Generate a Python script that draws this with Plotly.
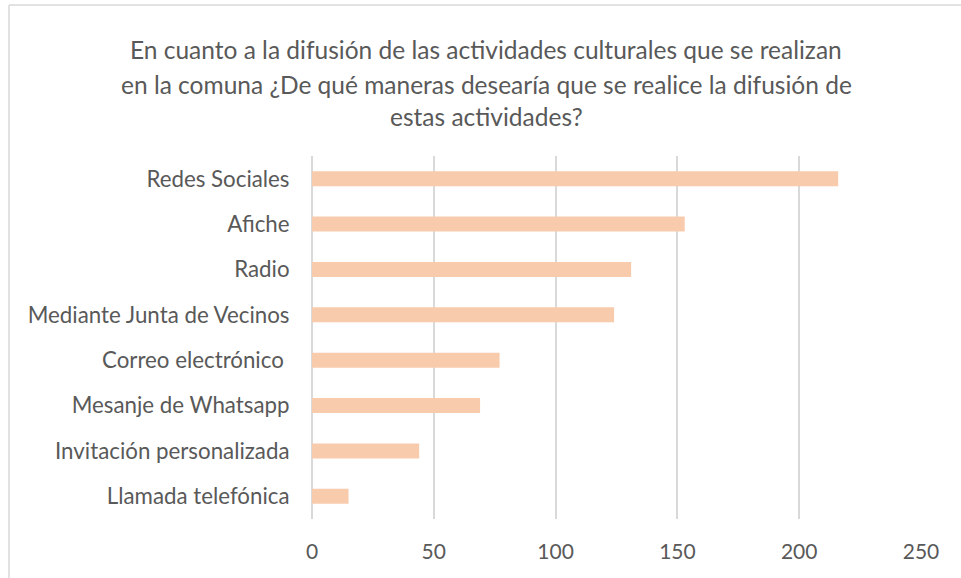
import plotly.graph_objects as go

categories = [
    "Redes Sociales",
    "Afiche",
    "Radio",
    "Mediante Junta de Vecinos",
    "Correo electrónico ",
    "Mesanje de Whatsapp",
    "Invitación personalizada",
    "Llamada telefónica",
]
values = [216, 153, 131, 124, 77, 69, 44, 15]

title_lines = [
    "En cuanto a la difusión de las actividades culturales que se realizan",
    "en la comuna ¿De qué maneras desearía que se realice la difusión de",
    "estas actividades?",
]

FONT = "Lato"
TXT = "#595959"
GRID = "#d9d9d9"
BAR = "#F8CBAD"

fig = go.Figure(
    go.Bar(
        x=values,
        y=categories,
        orientation="h",
        marker=dict(color=BAR, line=dict(width=0)),
        hoverinfo="x+y",
    )
)

W, H = 961, 578
L, R, T, B = 312, 40, 156, 59
plot_w = W - L - R
plot_h = H - T - B

title_y_px = [50, 84, 117]
annotations = []
for line, ypx in zip(title_lines, title_y_px):
    annotations.append(
        dict(
            text=line,
            xref="paper",
            yref="paper",
            x=(486 - L) / plot_w,
            y=(H - B - ypx) / plot_h,
            xanchor="center",
            yanchor="middle",
            showarrow=False,
            font=dict(family=FONT, size=24.5, color=TXT),
        )
    )

shapes = [
    dict(type="line", xref="paper", yref="paper",
         x0=(9 - L) / plot_w, x1=(W + 5 - L) / plot_w,
         y0=(H - B - 5) / plot_h, y1=(H - B - 5) / plot_h,
         line=dict(color=GRID, width=1.5)),
    dict(type="line", xref="paper", yref="paper",
         x0=(9 - L) / plot_w, x1=(9 - L) / plot_w,
         y0=(H - B - 5) / plot_h, y1=-1,
         line=dict(color=GRID, width=1.5)),
]

fig.update_layout(
    width=W,
    height=H,
    margin=dict(l=L, r=R, t=T, b=B, pad=0),
    paper_bgcolor="white",
    plot_bgcolor="white",
    showlegend=False,
    bargap=0.67,
    annotations=annotations,
    shapes=shapes,
    font=dict(family=FONT, size=21, color=TXT),
    xaxis=dict(
        range=[0, 250],
        tickvals=[0, 50, 100, 150, 200, 250],
        showgrid=True,
        gridcolor=GRID,
        gridwidth=1.5,
        zeroline=True,
        zerolinecolor=GRID,
        zerolinewidth=1.5,
        showline=False,
        ticks="outside",
        ticklen=14,
        tickcolor="rgba(0,0,0,0)",
        tickfont=dict(family=FONT, size=21, color=TXT),
        fixedrange=True,
    ),
    yaxis=dict(
        autorange="reversed",
        showgrid=False,
        zeroline=False,
        showline=False,
        ticks="outside",
        ticklen=17,
        tickcolor="rgba(0,0,0,0)",
        tickfont=dict(family=FONT, size=22.3, color=TXT),
        fixedrange=True,
    ),
)

fig.write_html(
    "out.html",
    config={"displayModeBar": False},
    post_script="document.body.style.margin='0';document.body.style.overflow='hidden';",
)
